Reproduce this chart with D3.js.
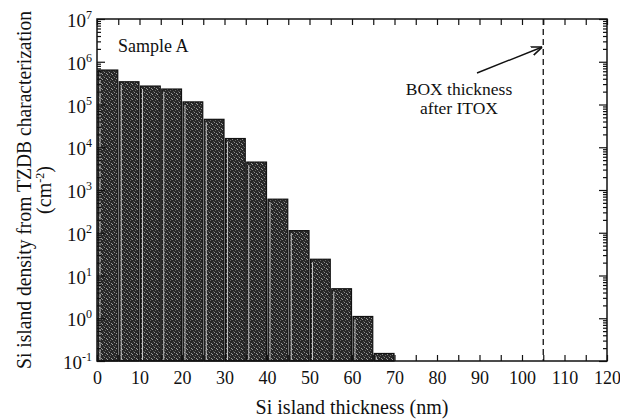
<!DOCTYPE html>
<html lang="en">
<head>
<meta charset="UTF-8">
<title>Si island density</title>
<script src="https://d3js.org/d3.v7.min.js"></script>
<style>
  body { margin: 0; background: #fff; }
  text { font-family: "Liberation Serif", "DejaVu Serif", serif; fill: #111; }
</style>
</head>
<body>
<div id="chart"></div>
<script>
// bin starts (nm), each bin is 5 nm wide
var binStart = [0, 5, 10, 15, 20, 25, 30, 35, 40, 45, 50, 55, 60, 65];
var density = [6.4e5, 3.4e5, 2.7e5, 2.3e5, 1.15e5, 4.5e4, 1.6e4, 4.5e3, 610, 112, 24, 4.9, 1.1, 0.15];
var binWidth = 5;
var xTicks = [0, 10, 20, 30, 40, 50, 60, 70, 80, 90, 100, 110, 120];
var yExp = [-1, 0, 1, 2, 3, 4, 5, 6, 7];
var boxThickness = 105;

var margin = { top: 19, right: 13, bottom: 59, left: 97 };
var W = 620, H = 420;
var width = W - margin.left - margin.right,
    height = H - margin.top - margin.bottom;

var svg = d3.select('#chart').append('svg')
  .attr('width', W).attr('height', H);

// stipple texture for bars
var defs = svg.append('defs');
var pat = defs.append('pattern').attr('id', 'stip')
  .attr('width', 5).attr('height', 5).attr('patternUnits', 'userSpaceOnUse');
pat.append('rect').attr('width', 5).attr('height', 5).attr('fill', '#282828');
pat.append('rect').attr('x', 0).attr('y', 0).attr('width', 1).attr('height', 1).attr('fill', '#a0a0a0');
pat.append('rect').attr('x', 2).attr('y', 3).attr('width', 1).attr('height', 1).attr('fill', '#8a8a8a');
pat.append('rect').attr('x', 3).attr('y', 1).attr('width', 1).attr('height', 1).attr('fill', '#666');
pat.append('rect').attr('x', 4).attr('y', 4).attr('width', 1).attr('height', 1).attr('fill', '#999');
pat.append('rect').attr('x', 1).attr('y', 2).attr('width', 1).attr('height', 1).attr('fill', '#555');

var g = svg.append('g').attr('transform', 'translate(' + margin.left + ',' + margin.top + ')');

var x = d3.scaleLinear().domain([0, 120]).range([0, width]);
var y = d3.scaleLog().domain([1e-1, 1e7]).range([height, 0]);

// bars
g.selectAll('rect.bar').data(binStart).enter().append('rect')
  .attr('class', 'bar')
  .attr('x', function(d) { return x(d) + 1; })
  .attr('width', function(d) { return x(d + binWidth) - x(d) - 1.5; })
  .attr('y', function(d, i) { return y(density[i]); })
  .attr('height', function(d, i) { return height - y(density[i]); })
  .attr('fill', 'url(#stip)')
  .attr('stroke', '#111')
  .attr('stroke-width', 1.2);

// white line inside each bar, left side
g.selectAll('line.gap').data(binStart).enter().append('line')
  .attr('x1', function(d) { return x(d) + 3; })
  .attr('x2', function(d) { return x(d) + 3; })
  .attr('y1', function(d, i) { return y(density[i]) + 3; })
  .attr('y2', height - 1)
  .attr('stroke', '#e8e8e8').attr('stroke-width', 0.8);

// axes
var minorX = d3.range(0, 121, 5);
var axBottom = d3.axisBottom(x).tickValues(minorX).tickSize(-6)
  .tickFormat(function(d) { return xTicks.indexOf(d) >= 0 ? d : ''; }).tickPadding(10);
var axTop = d3.axisTop(x).tickValues(minorX).tickSize(-6).tickFormat('');

var logTicks = [];
yExp.forEach(function(e) {
  for (var k = 1; k < 10; k++) {
    var v = k * Math.pow(10, e);
    if (v <= 1e7) logTicks.push(v);
  }
});
var isMajor = function(v) { return Math.abs(Math.log10(v) - Math.round(Math.log10(v))) < 1e-9; };

var axLeft = d3.axisLeft(y).tickValues(logTicks).tickSize(0).tickFormat('');
var axRight = d3.axisRight(y).tickValues(logTicks).tickSize(0).tickFormat('');

var gb = g.append('g').attr('transform', 'translate(0,' + height + ')').call(axBottom);
var gt = g.append('g').call(axTop);
var gl = g.append('g').call(axLeft);
var gr = g.append('g').attr('transform', 'translate(' + width + ',0)').call(axRight);
[gb, gt, gl, gr].forEach(function(a) {
  a.select('.domain').remove();
  a.selectAll('line').attr('stroke', '#111').attr('stroke-width', 1.2);
});
gb.selectAll('text').attr('font-size', 18).attr('font-family', 'Liberation Serif').attr('fill', '#111');

gl.selectAll('.tick line').attr('x2', function(d) { return isMajor(d) ? 8 : 4; });
gr.selectAll('.tick line').attr('x2', function(d) { return isMajor(d) ? -8 : -4; });

// y labels 10^n
yExp.forEach(function(e) {
  var t = g.append('text')
    .attr('x', -5).attr('y', y(Math.pow(10, e)) + 8)
    .attr('text-anchor', 'end').attr('font-size', 19);
  t.append('tspan').text('10');
  t.append('tspan').attr('dy', -8).attr('font-size', 12).text(e);
});

// frame
g.append('rect').attr('width', width).attr('height', height)
  .attr('fill', 'none').attr('stroke', '#111').attr('stroke-width', 1.5);

// BOX thickness dashed line
g.append('line')
  .attr('x1', x(boxThickness)).attr('x2', x(boxThickness))
  .attr('y1', 0).attr('y2', height)
  .attr('stroke', '#111').attr('stroke-width', 1.3)
  .attr('stroke-dasharray', '6,4');

// annotation
g.append('text').attr('x', 21).attr('y', 33).attr('font-size', 18).text('Sample A');
g.append('text').attr('x', 362).attr('y', 76).attr('text-anchor', 'middle').attr('font-size', 17.5).text('BOX thickness');
g.append('text').attr('x', 362).attr('y', 95).attr('text-anchor', 'middle').attr('font-size', 17.5).text('after ITOX');

defs.append('marker').attr('id', 'arr').attr('viewBox', '0 0 10 10')
  .attr('refX', 10).attr('refY', 5).attr('markerWidth', 11).attr('markerHeight', 11)
  .attr('markerUnits', 'userSpaceOnUse').attr('orient', 'auto')
  .append('path').attr('d', 'M0,1 L10,5 L0,9').attr('fill', 'none')
  .attr('stroke', '#111').attr('stroke-width', 1.4);
g.append('line')
  .attr('x1', 380).attr('y1', 54).attr('x2', x(boxThickness) - 1).attr('y2', 28)
  .attr('stroke', '#111').attr('stroke-width', 1.4).attr('marker-end', 'url(#arr)');

// axis titles
svg.append('text').attr('x', margin.left + width / 2).attr('y', 414)
  .attr('text-anchor', 'middle').attr('font-size', 20).text('Si island thickness (nm)');

var yt = svg.append('g').attr('transform', 'translate(31,' + (margin.top + height / 2) + ') rotate(-90)');
yt.append('text').attr('text-anchor', 'middle').attr('font-size', 20)
  .attr('textLength', 358).attr('lengthAdjust', 'spacingAndGlyphs')
  .text('Si island density from TZDB characterization');
var yt2 = yt.append('text').attr('y', 20).attr('text-anchor', 'middle').attr('font-size', 20);
yt2.append('tspan').text('(cm');
yt2.append('tspan').attr('dy', -7).attr('font-size', 12).text('-2');
yt2.append('tspan').attr('dy', 7).text(')');
</script>
</body>
</html>
